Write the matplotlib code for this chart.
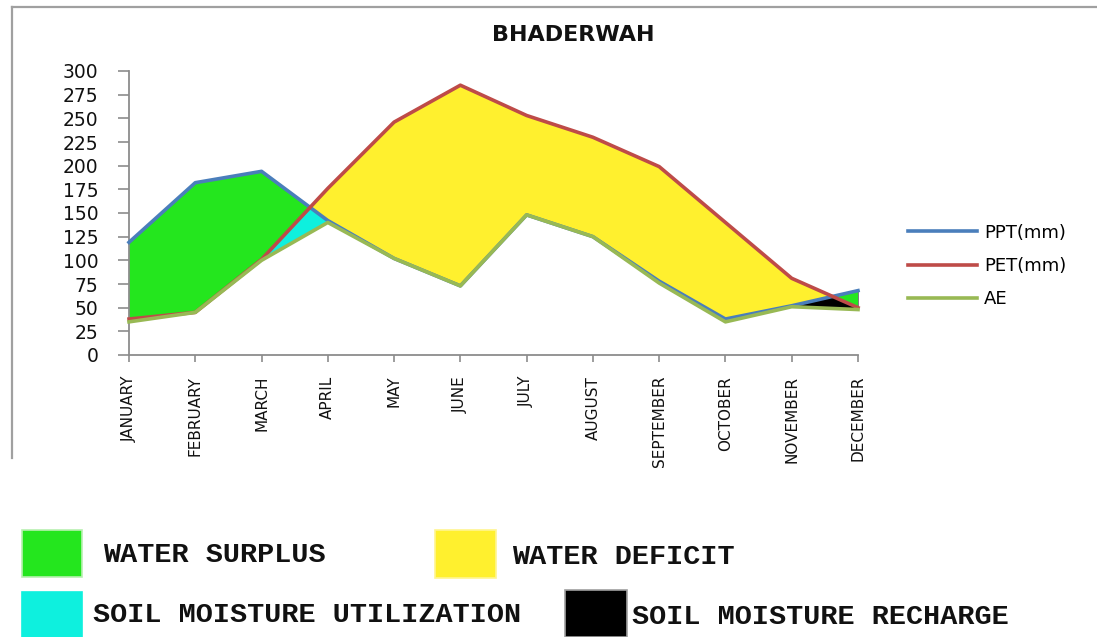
import numpy as np
import matplotlib
matplotlib.use("Agg")
import matplotlib.pyplot as plt
import matplotlib.patches as mpatches
from matplotlib.lines import Line2D

MONTHS = ["JANUARY", "FEBRUARY", "MARCH", "APRIL", "MAY", "JUNE", "JULY",
          "AUGUST", "SEPTEMBER", "OCTOBER", "NOVEMBER", "DECEMBER"]
PPT = [119, 182, 194, 142, 102, 73, 148, 125, 78, 38, 52, 68]
PET = [38, 45, 101, 176, 246, 285, 253, 230, 199, 140, 81, 50]
AE = [35, 45, 100, 140, 102, 73, 148, 125, 76, 35, 51, 48]
Y_TICKS = list(range(0, 301, 25))

W, H, DPI = 1097, 637, 100
C_PPT = "#4A7EBB"
C_PET = "#BE4B48"
C_AE = "#98B954"
C_SURPLUS = "#24E61E"
C_DEFICIT = "#FFF02E"
C_UTIL = "#0EF0DE"
C_RECH = "#000000"
C_AXIS = "#8C8C8C"


def fx(px):
    return px / W


def fy(py):
    return 1 - py / H


fig = plt.figure(figsize=(W / DPI, H / DPI), dpi=DPI, facecolor="white")

# chart area frame (left + top edges visible)
fig.add_artist(Line2D([fx(12), fx(12)], [fy(7), fy(458)], color="#A0A0A0", lw=1.6))
fig.add_artist(Line2D([fx(12), 1.0], [fy(7), fy(7)], color="#A0A0A0", lw=1.6))

ax = fig.add_axes([fx(129), fy(355), fx(858) - fx(129), fy(71) - fy(355)])
x = np.arange(len(MONTHS))
ppt = np.array(PPT, float)
pet = np.array(PET, float)
ae = np.array(AE, float)

# soil moisture utilization / recharge (partly covered by the layers above)
util = np.zeros(len(x), bool); util[2:4] = True
rech = np.zeros(len(x), bool); rech[10:12] = True
ax.fill_between(x, ae, ppt, where=util, color=C_UTIL, lw=0, zorder=1)
ax.fill_between(x, ae, ppt, where=rech, color=C_RECH, lw=0, zorder=1)
# surplus / deficit
ax.fill_between(x, pet, ppt, where=ppt >= pet, interpolate=True,
                color=C_SURPLUS, lw=0, zorder=2)
ax.fill_between(x, ppt, pet, where=pet >= ppt, interpolate=True,
                color=C_DEFICIT, lw=0, zorder=2)

l1, = ax.plot(x, ppt, color=C_PPT, lw=2.6, zorder=3, clip_on=False)
l2, = ax.plot(x, pet, color=C_PET, lw=2.6, zorder=4, clip_on=False)
l3, = ax.plot(x, ae, color=C_AE, lw=2.6, zorder=5, clip_on=False)

ax.set_xlim(0, len(MONTHS) - 1)
ax.set_ylim(0, 300)
ax.set_yticks(Y_TICKS)
ax.set_xticks(x)
ax.set_xticklabels(MONTHS, rotation=90, fontsize=11, color="#111111")
ax.tick_params(axis="x", length=5, width=1.2, color=C_AXIS, pad=10)
ax.tick_params(axis="y", length=8, width=1.2, color=C_AXIS, pad=14,
               labelsize=13.5, labelcolor="#111111")
for s in ("top", "right"):
    ax.spines[s].set_visible(False)
for s in ("left", "bottom"):
    ax.spines[s].set_color(C_AXIS)
    ax.spines[s].set_linewidth(1.3)

fig.text(fx(573), fy(35), "BHADERWAH", ha="center", va="center",
         fontsize=16, fontweight="bold", color="#111111")

fig.legend([l1, l2, l3], ["PPT(mm)", "PET(mm)", "AE"], loc="center left",
           bbox_to_anchor=(fx(908), fy(266)), frameon=False, fontsize=13,
           handlelength=3.8, handletextpad=0.4, labelspacing=0.85,
           borderpad=0, borderaxespad=0)

# bottom key
KEY = [
    (22, 530, 60, 47, C_SURPLUS, "#B8F0B0", "WATER SURPLUS", 103, 555),
    (435, 530, 61, 48, C_DEFICIT, "#FFF590", "WATER DEFICIT", 512, 557),
    (22, 592, 60, 45, C_UTIL, C_UTIL, "SOIL MOISTURE UTILIZATION", 93, 615),
    (565, 590, 62, 47, C_RECH, "#A0A0A0", "SOIL MOISTURE RECHARGE", 632, 617),
]
for px, py, pw, ph, fc, ec, label, tx, ty in KEY:
    fig.add_artist(mpatches.Rectangle((fx(px), fy(py + ph)), pw / W, ph / H,
                                      facecolor=fc, edgecolor=ec, lw=1.2,
                                      transform=fig.transFigure))
    fig.text(fx(tx), fy(ty), label, ha="left", va="center", fontsize=20.5,
             fontfamily="Liberation Mono", fontweight="bold", color="#111111")

fig.savefig("out.png", dpi=DPI, facecolor="white")
